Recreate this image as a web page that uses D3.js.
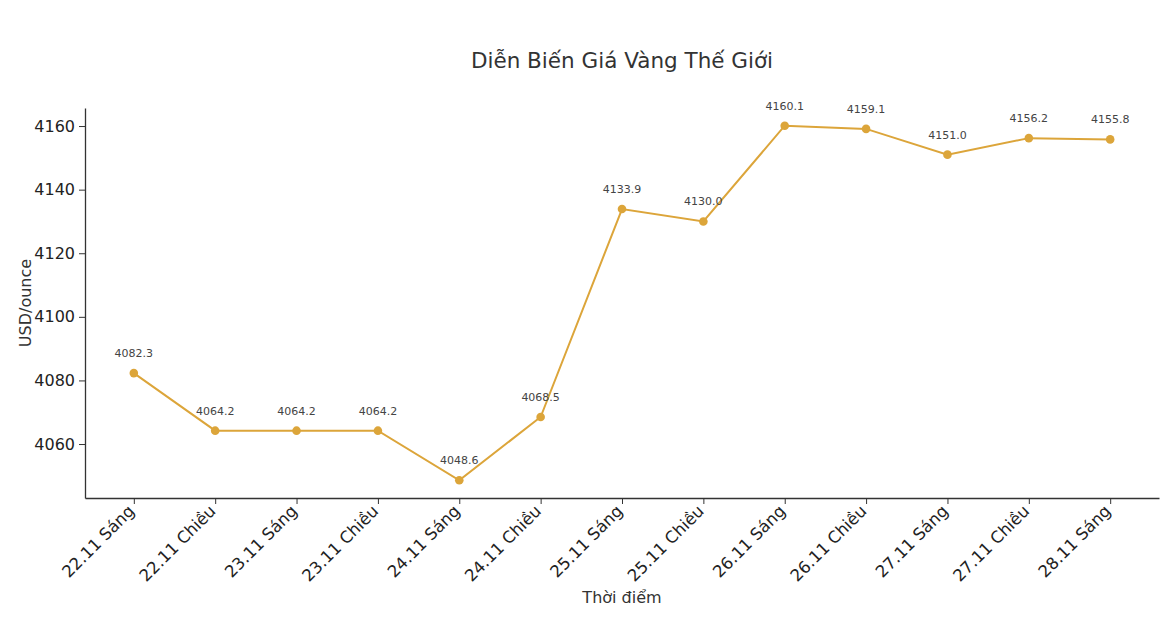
<!DOCTYPE html>
<html>
<head>
<meta charset="utf-8">
<script src="https://cdn.jsdelivr.net/npm/d3@7"></script>
<style>
  body { margin: 0; background: #fff; }
  svg { font-family: "DejaVu Sans", sans-serif; }
</style>
</head>
<body>
<svg id="chart" width="1172" height="636"></svg>
<script>
// danh sách thời điểm và giá vàng (USD/ounce)
var thoiDiem = ["22.11 Sáng", "22.11 Chiều", "23.11 Sáng", "23.11 Chiều", "24.11 Sáng", "24.11 Chiều",
    "25.11 Sáng", "25.11 Chiều", "26.11 Sáng", "26.11 Chiều", "27.11 Sáng", "27.11 Chiều", "28.11 Sáng"];
var giaVang = [4082.3, 4064.2, 4064.2, 4064.2, 4048.6, 4068.5, 4133.9, 4130.0, 4160.1, 4159.1, 4151.0, 4156.2, 4155.8];
var yTicks = [4060, 4080, 4100, 4120, 4140, 4160];

(function(d3){
    var svg = d3.select("#chart");
    var left = 85, right = 1159, top = 108, bottom = 498;
    var mau = "#DCA53A";

    // margin 5% giống matplotlib
    var n = thoiDiem.length;
    var x = d3.scaleLinear().domain([-0.6, n - 1 + 0.6]).range([left, right]);
    var lo = d3.min(giaVang), hi = d3.max(giaVang), pad = (hi - lo) * 0.05;
    var y = d3.scaleLinear().domain([lo - pad, hi + pad]).range([bottom, top]);

    // trục y
    var gy = svg.append("g").attr("transform", "translate(" + left + ",0)")
        .call(d3.axisLeft(y).tickValues(yTicks).tickFormat(d3.format("d"))
            .tickSize(6).tickSizeOuter(0).tickPadding(4));
    gy.selectAll("text").style("font-size", "16px").attr("fill", "#222");

    // trục x
    var gx = svg.append("g").attr("transform", "translate(0," + bottom + ")")
        .call(d3.axisBottom(x).tickValues(d3.range(n)).tickFormat(function(i){ return thoiDiem[i]; })
            .tickSize(6).tickSizeOuter(0).tickPadding(0));
    gx.selectAll("text")
        .style("font-size", "16.5px").attr("fill", "#222")
        .attr("text-anchor", "end")
        .attr("y", 0).attr("dy", "0.35em")
        .attr("transform", "translate(-3,10) rotate(-45)");

    [gx, gy].forEach(function(g){
        g.attr("font-family", null);
        g.select(".domain").attr("stroke", "#333").attr("stroke-width", 1.3);
        g.selectAll(".tick line").attr("stroke", "#333");
    });

    // đường giá
    var line = d3.line().x(function(d, i){ return x(i); }).y(function(d){ return y(d); });
    svg.append("path").datum(giaVang)
        .attr("d", line).attr("fill", "none")
        .attr("stroke", mau).attr("stroke-width", 2);

    svg.selectAll("circle.pt").data(giaVang).enter().append("circle")
        .attr("class", "pt")
        .attr("cx", function(d, i){ return x(i); })
        .attr("cy", function(d){ return y(d); })
        .attr("r", 4.3).attr("fill", mau);

    svg.selectAll("text.nhan").data(giaVang).enter().append("text")
        .attr("class", "nhan")
        .attr("x", function(d, i){ return x(i); })
        .attr("y", function(d){ return y(d) - 16; })
        .attr("text-anchor", "middle")
        .style("font-size", "11px").attr("fill", "#444")
        .text(function(d){ return d.toFixed(1); });

    // tiêu đề và nhãn trục
    svg.append("text").attr("x", (left + right) / 2).attr("y", 68)
        .attr("text-anchor", "middle").style("font-size", "21.5px").attr("fill", "#333")
        .text("Diễn Biến Giá Vàng Thế Giới");
    svg.append("text").attr("x", (left + right) / 2).attr("y", 603)
        .attr("text-anchor", "middle").style("font-size", "16px").attr("fill", "#333")
        .text("Thời điểm");
    svg.append("text").attr("transform", "translate(31," + ((top + bottom) / 2) + ") rotate(-90)")
        .attr("text-anchor", "middle").style("font-size", "16px").attr("fill", "#333")
        .text("USD/ounce");
})(d3);
</script>
</body>
</html>
